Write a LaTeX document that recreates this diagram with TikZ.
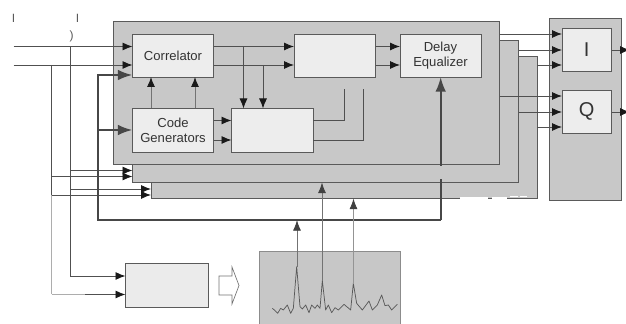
\documentclass[tikz,border=0pt]{standalone}
\usepackage{fontspec}
\setmainfont{Liberation Sans}
\usetikzlibrary{arrows.meta}
\definecolor{panelgray}{HTML}{C8C8C8}
\definecolor{edgegray}{HTML}{5A5A5A}
\definecolor{boxgray}{HTML}{EDEDED}
\definecolor{linegray}{HTML}{505050}
\tikzset{
  sized/.style 2 args={minimum width=#1*0.75pt,minimum height=#2*0.75pt,inner sep=0pt,outer sep=0pt,anchor=north west},
  panel/.style={draw=edgegray,fill=panelgray,line width=0.65pt},
  blockbox/.style={draw=edgegray,fill=boxgray,line width=0.65pt,font=\fontsize{9.8}{11.8}\selectfont,text=black!80,align=center},
  sig/.style={draw=linegray,line width=0.65pt,-{Latex[length=7.5pt,width=6pt,color=black!90]}},
  plain/.style={draw=linegray,line width=0.65pt},
  faint/.style={draw=black!32,line width=0.65pt},
  heavy/.style={draw=black!72,line width=1.7pt},
  heavyarrow/.style={draw=black!72,line width=1.7pt,-{Latex[length=11pt,width=8pt,color=black!72]}},
  thinup/.style={draw=black!55,line width=0.6pt,-{Latex[length=8pt,width=6pt,color=black!75]}}
}
\begin{document}
\begin{tikzpicture}[x=0.75pt,y=-0.75pt]
\useasboundingbox (0,0) rectangle (626,324);
% stacked panels
\node[panel,sized={386}{142.5}] (p3) at (151,56) {};
\node[panel,sized={386}{142.5}] (p2) at (132.5,40) {};
\node[panel,sized={386}{142.5}] (p1) at (113.5,21.5) {};
\node[panel,sized={72}{182}] (out) at (549,18) {};
% white wear on the third panel's lower edge
\fill[white] (460,197.5) rectangle (488,200);
\fill[white] (492,197.5) rectangle (507,200);
\fill[white] (510,195.6) rectangle (518,196.6);
\fill[white] (520,195.6) rectangle (527,196.6);
% blocks
\node[blockbox,sized={81}{42.5}] (corr) at (132.5,34.5) {Correlator};
\node[blockbox,sized={81}{43.5}] (code) at (132.5,108.5) {Code\\Generators};
\node[blockbox,sized={81.5}{43.5}] (mid) at (231.5,108.5) {};
\node[blockbox,sized={81.5}{42.5}] (top) at (294,34.5) {};
\node[blockbox,sized={81}{42.5}] (delay) at (400,34.5) {Delay\\Equalizer};
\node[blockbox,sized={49.5}{43.5},font=\fontsize{15}{17}\selectfont] (I) at (562,28) {I};
\node[blockbox,sized={49.5}{43}, font=\fontsize{15}{17}\selectfont] (Q) at (562,90) {Q};
\node[blockbox,sized={82.5}{43.5},fill=black!8] (low) at (125.5,263.5) {};
\node[draw=black!45,fill=black!22,line width=0.7pt,sized={141}{74}] (spec) at (259.5,251) {};
% cropped labels
\node[font=\fontsize{9}{10}\selectfont,text=black!65,inner sep=0pt] (l1) at (13.5,18) {I};
\node[font=\fontsize{9}{10}\selectfont,text=black!65,inner sep=0pt] (l2) at (77.5,18) {I};
\node[font=\fontsize{9}{10}\selectfont,text=black!65,inner sep=0pt] (l3) at (71.5,36) {)};
% free ends and bends
\coordinate (inA) at (13.5,46.5);
\coordinate (inB) at (13.5,65);
\coordinate (vA) at (70,46.5);
\coordinate (vB) at (51.5,65);
\coordinate (vAlow) at (70,276);
\coordinate (vBlow) at (51.5,294.5);
\coordinate (thTop) at (98,75);
\coordinate (thMid) at (98,130);
\coordinate (thBot) at (98,220);
\coordinate (thRight) at (440.7,220);
\coordinate (thGapB) at (440.7,179);
\coordinate (thGapT) at (440.7,166);
% inputs
\draw[sig] (inA) -- (corr.west |- inA);
\draw[sig] (inB) -- (corr.west |- inB);
\draw[plain] (vA) -- (vAlow);
\draw[plain] (vB) -- (51.5,195);
\draw[faint] (51.5,195) -- (vBlow);
\draw[faint] (vBlow) -- (85,294.5);
\draw[sig] (85,294.5) -- (low.west |- vBlow);
\draw[sig] (vAlow) -- (low.west |- vAlow);
\draw[sig] (70,170.5) -- (p2.west |- 70,170.5);
\draw[sig] (51.5,176.5) -- (p2.west |- 70,176.5);
\draw[sig] (70,189) -- (p3.west |- 70,189);
\draw[sig] (51.5,195) -- (p3.west |- 70,195);
% thick control bus
\draw[heavy,line join=miter] (thRight) -- (thBot) -- (thTop) -- (105,75);
\draw[heavyarrow] (105,75) -- (corr.west |- thTop);
\draw[heavyarrow] (thMid) -- (code.west |- thMid);
\draw[heavy] (thRight) -- (thGapB);
\draw[heavyarrow] (thGapT) -- (delay.south -| thGapT);
% inner signals
\draw[sig] (corr.east |- inA) -- (top.west |- inA);
\draw[sig] (corr.east |- inB) -- (top.west |- inB);
\draw[sig] (243.5,46.5) -- (mid.north -| 243.5,0);
\draw[sig] (263,65) -- (mid.north -| 263,0);
\draw[sig,draw=black!55] (code.north -| 151,0) -- (corr.south -| 151,0);
\draw[sig,draw=black!55] (code.north -| 195,0) -- (corr.south -| 195,0);
\draw[sig] (code.east |- 0,120.5) -- (mid.west |- 0,120.5);
\draw[sig] (code.east |- 0,140) -- (mid.west |- 0,140);
\draw[plain] (mid.east |- 0,120.5) -- (344,120.5) -- (344,89);
\draw[plain] (mid.east |- 0,140) -- (363,140) -- (363,89);
\draw[sig] (top.east |- inA) -- (delay.west |- inA);
\draw[sig] (top.east |- inB) -- (delay.west |- inB);
% outputs to I and Q
\draw[sig] (p1.east |- 0,34) -- (I.west |- 0,34);
\draw[sig] (p2.east |- 0,50) -- (I.west |- 0,50);
\draw[sig] (p3.east |- 0,65) -- (I.west |- 0,65);
\draw[sig] (p1.east |- 0,96) -- (Q.west |- 0,96);
\draw[sig] (p2.east |- 0,112) -- (Q.west |- 0,112);
\draw[sig] (p3.east |- 0,127) -- (Q.west |- 0,127);
\coordinate (outI) at (630,50);
\coordinate (outQ) at (630,112);
\draw[sig] (I.east |- outI) -- (outI);
\draw[sig] (Q.east |- outQ) -- (outQ);
% hollow arrow
\draw[draw=black!55,fill=white,line width=0.5pt] (219,276) -- (232,276) -- (232,267) -- (239,285.5) -- (232,304) -- (232,295) -- (219,295) -- cycle;
% spectrum trace
\begin{scope}[shift={(240,160)},x=0.25pt,y=-0.25pt]
\draw[black!65,line width=0.55pt,line join=round] (97,445)--(103,450)--(113,460)--(122,445)--(130,450)--(142,435)--(152,460)--(160,445)--(170,320)--(180,440)--(187,447)--(197,435)--(207,458)--(215,435)--(225,445)--(232,435)--(240,445)--(247,362)--(257,450)--(265,435)--(275,458)--(285,443)--(295,450)--(312,433)--(332,450)--(340,370)--(350,430)--(367,450)--(387,423)--(397,450)--(412,435)--(425,405)--(435,437)--(445,435)--(455,450)--(472,433);
\end{scope}
% spectrum peaks to panels
\coordinate (pk1) at (297,267);
\coordinate (pk2) at (322,281);
\coordinate (pk3) at (353.5,284);
\draw[thinup] (pk1) -- (thBot -| pk1);
\draw[thinup] (pk2) -- (p2.south -| pk2);
\draw[thinup,draw=black!42] (pk3) -- (p3.south -| pk3);
\end{tikzpicture}
\end{document}
